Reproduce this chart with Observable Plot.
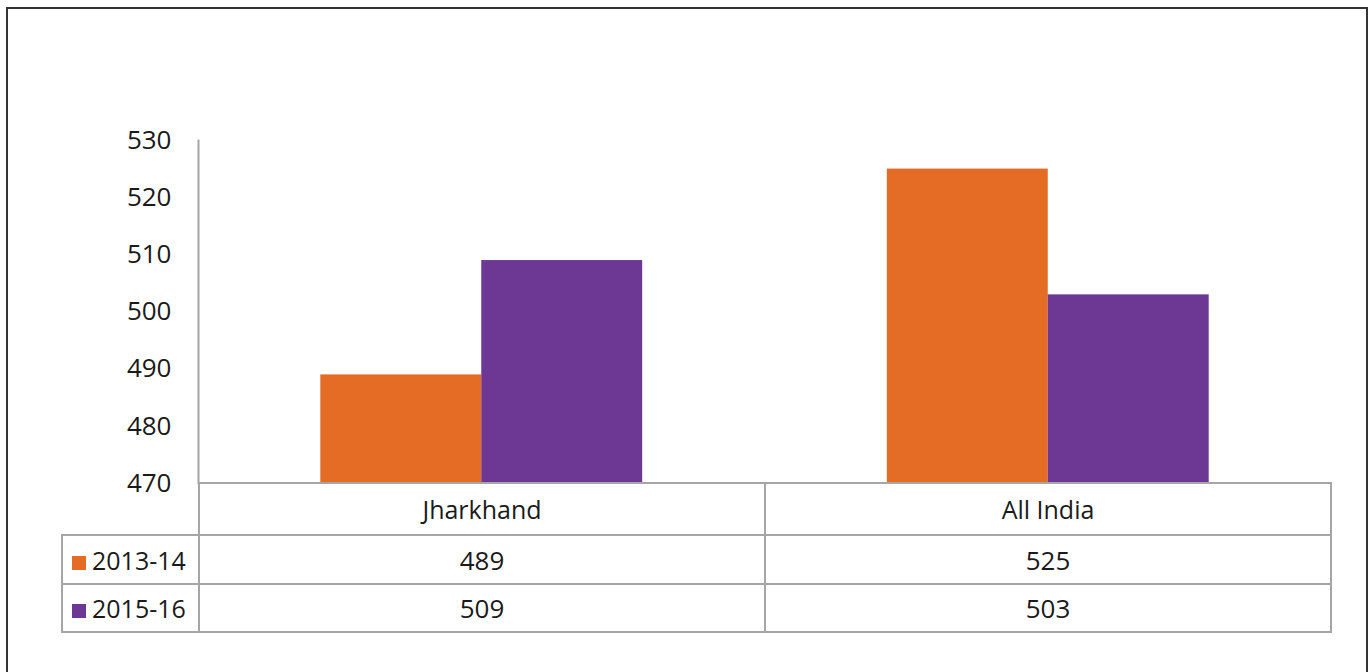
<!DOCTYPE html>
<html>
<head>
<meta charset="utf-8">
<script src="https://cdn.jsdelivr.net/npm/d3@7"></script>
<script src="https://cdn.jsdelivr.net/npm/@observablehq/plot@0.6"></script>
<style>
  html, body { margin: 0; padding: 0; background: #fff; overflow: hidden; }
  body { width: 1370px; height: 672px; position: relative; font-family: "Open Sans", sans-serif; }
  #frame { position: absolute; left: 6px; top: 7px; width: 1358px; height: 700px; border: 2px solid #333; box-sizing: content-box; }
  #chart { position: absolute; left: 0; top: 0; }
  #table { position: absolute; left: 61px; top: 482px; }
  table { border-collapse: collapse; table-layout: fixed; font-family: "Open Sans", sans-serif; font-size: 25px; color: #1a1a1a; }
  td { border: 2px solid #a6a6a6; text-align: center; padding: 0; }
  td.num { font-size: 26px; }
  td.blank { border-top: none; border-left: none; }
  td.legend { text-align: left; padding-left: 9px; white-space: nowrap; }
  .sw { display: inline-block; width: 14px; height: 14px; margin-right: 6px; vertical-align: 0px; }
</style>
</head>
<body>
<div id="frame"></div>
<div id="chart"></div>
<div id="table"></div>
<script>
const categories = ["Jharkhand", "All India"];
const series = ["2013-14", "2015-16"];
const values2013 = [489, 525];
const values2015 = [509, 503];
const yTicks = [470, 480, 490, 500, 510, 520, 530];
const colors = ["#E46C25", "#6C3894"];

const seriesValues = [values2013, values2015];
const data = [];
categories.forEach((c, i) => {
  series.forEach((s, j) => data.push({category: c, series: s, value: seriesValues[j][i]}));
});

const chart = Plot.plot({
  width: 1370,
  height: 500,
  marginTop: 140,
  marginBottom: 17,
  marginLeft: 198,
  marginRight: 39,
  style: {fontFamily: "Open Sans, sans-serif", fontSize: "26px", color: "#1a1a1a", background: "transparent"},
  fx: {domain: categories, padding: 0, round: false, axis: null},
  x: {domain: series, paddingInner: 0, paddingOuter: 0.76, round: false, axis: null},
  y: {domain: [yTicks[0], yTicks[yTicks.length - 1]], axis: null},
  color: {domain: series, range: colors},
  marks: [
    Plot.barY(data, {fx: "category", x: "series", y: "value", fill: "series", clip: true}),
    Plot.axisY({ticks: yTicks, tickSize: 0, tickPadding: 27, fontSize: 26, fill: "#1a1a1a", label: null}),
    Plot.frame({anchor: "left", facetAnchor: "left", stroke: "#a6a6a6", strokeWidth: 2, strokeOpacity: 1})
  ]
});
document.getElementById("chart").appendChild(chart);

// data table under the chart, built from the same arrays
const tbl = document.createElement("table");
const colgroup = document.createElement("colgroup");
[137, 566, 566].forEach(w => { const col = document.createElement("col"); col.style.width = w + "px"; colgroup.appendChild(col); });
tbl.appendChild(colgroup);
const head = document.createElement("tr");
head.style.height = "52px";
const blank = document.createElement("td"); blank.className = "blank"; head.appendChild(blank);
categories.forEach(c => { const td = document.createElement("td"); td.textContent = c; head.appendChild(td); });
tbl.appendChild(head);
series.forEach((s, j) => {
  const tr = document.createElement("tr");
  tr.style.height = j === 0 ? "49px" : "48px";
  const lg = document.createElement("td"); lg.className = "legend";
  const sw = document.createElement("span"); sw.className = "sw"; sw.style.background = colors[j];
  lg.appendChild(sw); lg.appendChild(document.createTextNode(s));
  tr.appendChild(lg);
  categories.forEach((c, i) => { const td = document.createElement("td"); td.className = "num"; td.textContent = seriesValues[j][i]; tr.appendChild(td); });
  tbl.appendChild(tr);
});
document.getElementById("table").appendChild(tbl);
</script>
</body>
</html>
